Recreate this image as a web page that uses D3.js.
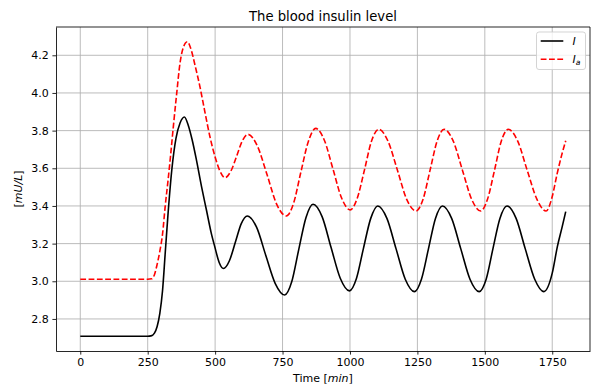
<!DOCTYPE html>
<html>
<head>
<meta charset="utf-8">
<script src="https://cdn.jsdelivr.net/npm/d3@7"></script>
<style>
  html, body { margin: 0; padding: 0; background: #fff; }
  svg { display: block; font-family: "DejaVu Sans", sans-serif; }
</style>
</head>
<body>
<svg id="chart" width="593" height="392"></svg>
<script>
// Blood insulin level I (solid) and I_a (dashed) over time in minutes
const insulinTime = [0, 250, 262, 275, 285, 295, 305, 315, 325, 340, 355, 370, 386, 400, 415, 431, 450, 468, 485, 499, 515, 531,
  553, 575, 597, 619, 654, 688, 723, 758, 784, 810, 837, 863, 897, 930, 964, 998, 1024, 1050, 1077, 1103,
  1137, 1171, 1205, 1239, 1265, 1291, 1317, 1343, 1377, 1411, 1445, 1479, 1505, 1530, 1556, 1582,
  1616, 1650, 1685, 1719, 1750, 1769, 1787, 1800];
const insulinLevel = [2.708, 2.708, 2.710, 2.725, 2.76, 2.83, 2.95, 3.15, 3.35, 3.60, 3.76, 3.84, 3.872, 3.83, 3.75, 3.642, 3.50, 3.377, 3.26, 3.182, 3.10, 3.068,
  3.109, 3.207, 3.306, 3.347, 3.286, 3.137, 2.988, 2.927, 2.997, 3.168, 3.339, 3.409, 3.342, 3.179, 3.016, 2.949, 3.015, 3.175, 3.334, 3.400,
  3.334, 3.172, 3.011, 2.945, 3.011, 3.172, 3.334, 3.400, 3.334, 3.172, 3.011, 2.945, 3.011, 3.172, 3.334, 3.400,
  3.334, 3.172, 3.011, 2.945, 3.043, 3.184, 3.29, 3.37];

const analogTime = [0, 250, 265, 275, 285, 295, 305, 315, 325, 335, 345, 357, 370, 383, 397, 410, 425, 444, 462, 481, 500, 518, 537,
  558, 580, 601, 622, 657, 693, 728, 764, 791, 818, 846, 873, 905, 937, 969, 1001, 1027, 1054, 1080, 1107,
  1141, 1176, 1210, 1245, 1271, 1297, 1323, 1349, 1383, 1417, 1451, 1485, 1510, 1536, 1561, 1587,
  1622, 1657, 1693, 1727, 1750, 1768, 1785, 1800];
const analogLevel = [3.011, 3.011, 3.013, 3.035, 3.09, 3.16, 3.25, 3.40, 3.53, 3.67, 3.82, 3.99, 4.16, 4.245, 4.272, 4.235, 4.15, 4.031, 3.90, 3.766, 3.66, 3.585, 3.550,
  3.584, 3.665, 3.746, 3.780, 3.717, 3.564, 3.410, 3.347, 3.415, 3.580, 3.744, 3.812, 3.749, 3.596, 3.442, 3.379, 3.441, 3.593, 3.745, 3.807,
  3.744, 3.590, 3.436, 3.373, 3.436, 3.590, 3.744, 3.807, 3.744, 3.590, 3.436, 3.373, 3.436, 3.590, 3.744, 3.807,
  3.744, 3.590, 3.436, 3.373, 3.45, 3.57, 3.67, 3.746];

const xTicks = [0, 250, 500, 750, 1000, 1250, 1500, 1750];
const yTicks = [2.8, 3.0, 3.2, 3.4, 3.6, 3.8, 4.0, 4.2];

const svg = d3.select("#chart");
const plotLeft = 56, plotRight = 590, plotTop = 27, plotBottom = 351;
const fontSize = 11;

// Axis limits padded by 5% of the data span on each side
const tExtent = d3.extent(insulinTime.concat(analogTime));
const vExtent = d3.extent(insulinLevel.concat(analogLevel));
const tPad = (tExtent[1] - tExtent[0]) * 0.05;
const vPad = (vExtent[1] - vExtent[0]) * 0.05;

const x = d3.scaleLinear().domain([tExtent[0] - tPad, tExtent[1] + tPad]).range([plotLeft, plotRight]);
const y = d3.scaleLinear().domain([vExtent[0] - vPad, vExtent[1] + vPad]).range([plotBottom, plotTop]);

// Grid
const grid = svg.append("g").attr("class", "grid");
grid.selectAll("line.gx").data(xTicks).join("line").attr("class", "gx")
  .attr("x1", d => x(d)).attr("x2", d => x(d))
  .attr("y1", plotTop).attr("y2", plotBottom)
  .attr("stroke", "#b0b0b0").attr("stroke-width", 0.85);
grid.selectAll("line.gy").data(yTicks).join("line").attr("class", "gy")
  .attr("x1", plotLeft).attr("x2", plotRight)
  .attr("y1", d => y(d)).attr("y2", d => y(d))
  .attr("stroke", "#b0b0b0").attr("stroke-width", 0.85);

// Series
const line = d3.line().curve(d3.curveMonotoneX);
const insulinPts = insulinTime.map((t, i) => [x(t), y(insulinLevel[i])]);
const analogPts = analogTime.map((t, i) => [x(t), y(analogLevel[i])]);

svg.append("path").attr("d", line(insulinPts))
  .attr("fill", "none").attr("stroke", "#000").attr("stroke-width", 1.6)
  .attr("stroke-linejoin", "round");
svg.append("path").attr("d", line(analogPts))
  .attr("fill", "none").attr("stroke", "#ff0000").attr("stroke-width", 1.6)
  .attr("stroke-dasharray", "5.8,2.5");

// Axes
const xAxis = d3.axisBottom(x).tickValues(xTicks).tickSizeInner(3.6).tickSizeOuter(0).tickPadding(3.6)
  .tickFormat(d3.format("d"));
const yAxis = d3.axisLeft(y).tickValues(yTicks).tickSizeInner(3.6).tickSizeOuter(0).tickPadding(3.6)
  .tickFormat(d3.format(".1f"));

const gx = svg.append("g").attr("transform", `translate(0,${plotBottom})`).call(xAxis);
const gy = svg.append("g").attr("transform", `translate(${plotLeft},0)`).call(yAxis);
[gx, gy].forEach(g => {
  g.selectAll("text").attr("font-size", fontSize).attr("fill", "#000")
    .attr("font-family", "DejaVu Sans");
  g.selectAll("line").attr("stroke", "#000").attr("stroke-width", 0.85);
  g.select(".domain").attr("stroke", "#000").attr("stroke-width", 0.85);
});

// Top and right spines
svg.append("line").attr("x1", plotLeft).attr("x2", plotRight).attr("y1", plotTop).attr("y2", plotTop)
  .attr("stroke", "#000").attr("stroke-width", 0.85);
svg.append("line").attr("x1", plotRight).attr("x2", plotRight).attr("y1", plotTop).attr("y2", plotBottom)
  .attr("stroke", "#000").attr("stroke-width", 0.85);

// Title and axis labels
svg.append("text").attr("x", (plotLeft + plotRight) / 2).attr("y", 20.5)
  .attr("text-anchor", "middle").attr("font-size", 13.2).text("The blood insulin level");

const xl = svg.append("text").attr("x", (plotLeft + plotRight) / 2).attr("y", 382)
  .attr("text-anchor", "middle").attr("font-size", fontSize);
xl.append("tspan").text("Time [");
xl.append("tspan").attr("font-style", "italic").text("min");
xl.append("tspan").text("]");

const yl = svg.append("text")
  .attr("transform", `translate(22,${(plotTop + plotBottom) / 2}) rotate(-90)`)
  .attr("text-anchor", "middle").attr("font-size", fontSize);
yl.append("tspan").text("[");
yl.append("tspan").attr("font-style", "italic").text("mU/L");
yl.append("tspan").text("]");

// Legend
const lg = svg.append("g");
lg.append("rect").attr("x", 536.5).attr("y", 32).attr("width", 49).attr("height", 37.5)
  .attr("rx", 2.5).attr("fill", "#fff").attr("fill-opacity", 0.8)
  .attr("stroke", "#cccccc").attr("stroke-width", 0.85);
lg.append("line").attr("x1", 540.7).attr("x2", 563.3).attr("y1", 41).attr("y2", 41)
  .attr("stroke", "#000").attr("stroke-width", 1.6);
lg.append("line").attr("x1", 540.7).attr("x2", 563.3).attr("y1", 59.3).attr("y2", 59.3)
  .attr("stroke", "#ff0000").attr("stroke-width", 1.6).attr("stroke-dasharray", "5.8,2.5");
lg.append("text").attr("x", 572.5).attr("y", 45).attr("font-size", fontSize)
  .attr("font-style", "italic").text("I");
const la = lg.append("text").attr("x", 572.5).attr("y", 63.3).attr("font-size", fontSize)
  .attr("font-style", "italic");
la.append("tspan").text("I");
la.append("tspan").attr("font-size", fontSize * 0.7).attr("dy", 1.8).text("a");
</script>
</body>
</html>
